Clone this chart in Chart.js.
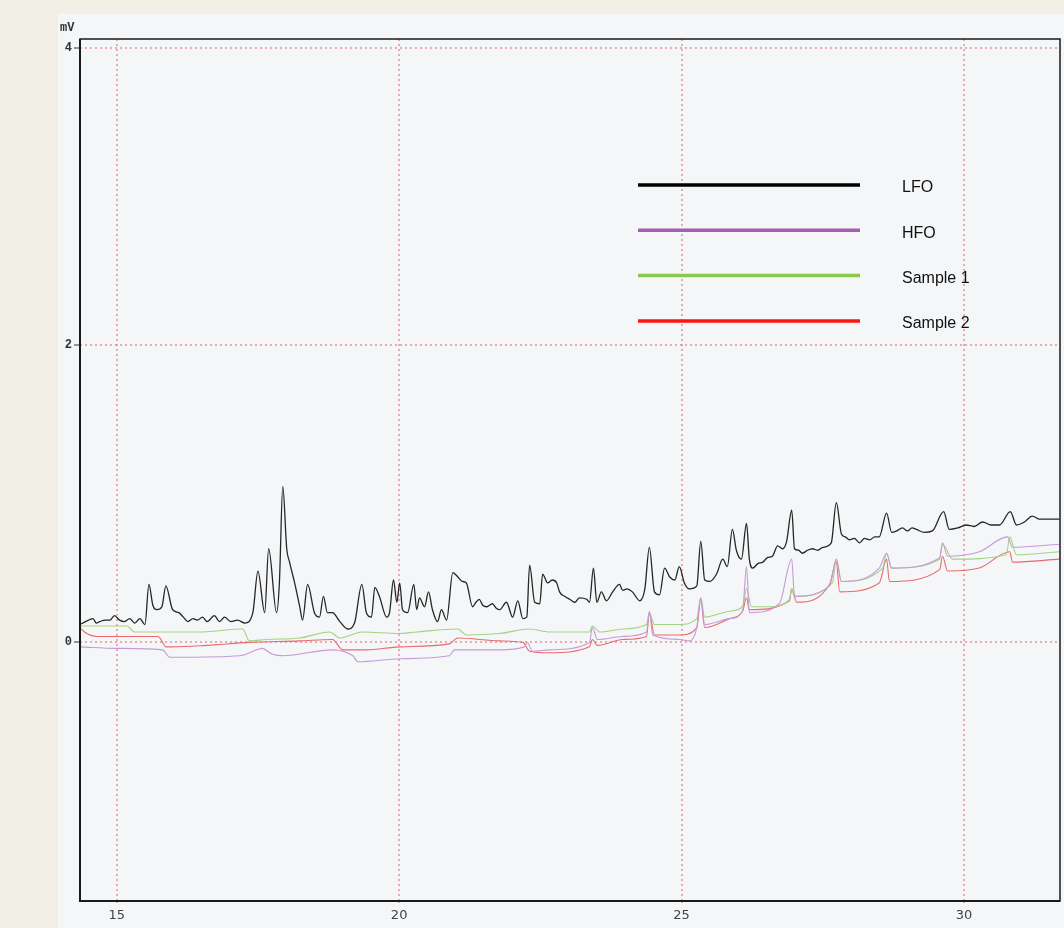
<!DOCTYPE html>
<html>
<head>
<meta charset="utf-8">
<script src="https://cdn.jsdelivr.net/npm/chart.js@4.4.1/dist/chart.umd.min.js"></script>
<style>
  html, body { margin: 0; padding: 0; background: #f2efe7; }
  #panel { position: absolute; left: 58px; top: 14px; width: 1006px; height: 914px; background: #f4f6f7; }
  canvas { display: block; }
</style>
</head>
<body>
<div id="panel"><canvas id="chrom" width="1006" height="914"></canvas></div>
<script>
// retention time (min) vs signal (mV)
const seriesNames = ['LFO', 'HFO', 'Sample 1', 'Sample 2'];
const xTicks = [15, 20, 25, 30];
const yTicks = [0, 2, 4];

const lfo = [
  [14.35,0.12],[14.45,0.14],[14.58,0.16],[14.64,0.13],[14.70,0.14],[14.80,0.15],[14.88,0.15],[14.96,0.18],
  [15.05,0.15],[15.14,0.14],[15.23,0.16],[15.32,0.13],[15.41,0.16],[15.50,0.12],[15.57,0.39],[15.64,0.25],
  [15.71,0.22],[15.80,0.24],[15.87,0.38],[15.99,0.22],[16.10,0.20],[16.18,0.17],[16.26,0.14],[16.35,0.16],
  [16.43,0.15],[16.52,0.17],[16.60,0.14],[16.73,0.18],[16.82,0.14],[16.91,0.17],[17.02,0.14],[17.14,0.15],
  [17.27,0.13],[17.41,0.20],[17.50,0.48],[17.62,0.20],[17.69,0.63],[17.83,0.20],[17.88,0.40],[17.94,1.05],
  [18.01,0.63],[18.06,0.54],[18.15,0.40],[18.24,0.24],[18.29,0.15],[18.38,0.39],[18.50,0.20],[18.59,0.17],
  [18.66,0.31],[18.73,0.20],[18.82,0.20],[18.95,0.14],[19.09,0.09],[19.21,0.13],[19.34,0.39],[19.42,0.20],
  [19.51,0.17],[19.57,0.37],[19.65,0.31],[19.78,0.17],[19.83,0.20],[19.90,0.42],[19.96,0.27],[20.01,0.40],
  [20.06,0.22],[20.15,0.20],[20.26,0.39],[20.31,0.22],[20.36,0.30],[20.45,0.24],[20.52,0.34],[20.59,0.22],
  [20.68,0.14],[20.75,0.22],[20.84,0.15],[20.95,0.47],[21.04,0.44],[21.12,0.41],[21.19,0.40],[21.30,0.24],
  [21.36,0.27],[21.42,0.29],[21.48,0.25],[21.55,0.24],[21.65,0.26],[21.72,0.23],[21.78,0.22],[21.90,0.27],
  [22.01,0.17],[22.10,0.28],[22.19,0.16],[22.26,0.17],[22.31,0.52],[22.40,0.27],[22.49,0.26],[22.54,0.46],
  [22.63,0.40],[22.71,0.42],[22.79,0.40],[22.84,0.34],[22.93,0.31],[23.02,0.29],[23.11,0.27],[23.19,0.30],
  [23.32,0.29],[23.37,0.27],[23.44,0.50],[23.50,0.27],[23.58,0.34],[23.67,0.28],[23.78,0.34],[23.90,0.39],
  [23.96,0.35],[24.03,0.36],[24.13,0.34],[24.26,0.28],[24.35,0.36],[24.43,0.64],[24.52,0.34],[24.61,0.32],
  [24.70,0.50],[24.79,0.44],[24.88,0.42],[24.96,0.51],[25.05,0.40],[25.14,0.36],[25.27,0.38],[25.34,0.68],
  [25.41,0.42],[25.50,0.41],[25.62,0.46],[25.73,0.56],[25.81,0.51],[25.90,0.76],[25.97,0.62],[26.06,0.56],
  [26.15,0.80],[26.20,0.56],[26.26,0.50],[26.35,0.53],[26.44,0.54],[26.52,0.57],[26.61,0.58],[26.70,0.65],
  [26.79,0.63],[26.86,0.68],[26.95,0.89],[27.00,0.63],[27.07,0.62],[27.14,0.60],[27.23,0.62],[27.32,0.63],
  [27.41,0.62],[27.50,0.64],[27.65,0.67],[27.74,0.94],[27.83,0.73],[27.90,0.71],[27.97,0.69],[28.06,0.70],
  [28.15,0.67],[28.24,0.70],[28.33,0.69],[28.42,0.71],[28.50,0.71],[28.63,0.87],[28.72,0.74],[28.81,0.75],
  [28.91,0.77],[29.00,0.75],[29.08,0.77],[29.16,0.76],[29.30,0.74],[29.44,0.75],[29.64,0.88],[29.74,0.76],
  [29.89,0.77],[30.04,0.79],[30.18,0.78],[30.33,0.81],[30.48,0.79],[30.63,0.79],[30.82,0.88],[30.93,0.79],
  [31.07,0.81],[31.21,0.85],[31.33,0.83],[31.45,0.83],[31.69,0.83]
];

const hfo = [
  [14.35,-0.03],[15.00,-0.04],[15.81,-0.05],[15.94,-0.10],[16.06,-0.10],[17.18,-0.09],[17.48,-0.05],
  [17.57,-0.04],[17.76,-0.08],[17.94,-0.09],[18.82,-0.05],[19.18,-0.09],[19.27,-0.13],[20.01,-0.11],
  [20.89,-0.09],[20.98,-0.05],[21.78,-0.05],[22.22,-0.03],[22.27,0.00],[22.36,-0.06],[22.66,-0.05],
  [23.37,0.00],[23.42,0.10],[23.51,0.02],[23.96,0.04],[24.38,0.07],[24.43,0.21],[24.49,0.05],[24.96,0.02],
  [25.14,0.01],[25.27,0.10],[25.34,0.30],[25.41,0.12],[25.85,0.16],[26.08,0.21],[26.15,0.51],[26.20,0.20],
  [26.73,0.26],[26.95,0.56],[27.00,0.31],[27.62,0.38],[27.74,0.56],[27.83,0.41],[28.50,0.50],[28.63,0.60],
  [28.72,0.50],[29.57,0.57],[29.62,0.67],[29.71,0.58],[30.27,0.61],[30.77,0.71],[30.86,0.64],[31.69,0.66]
];

const sample1 = [
  [14.35,0.11],[15.18,0.11],[15.32,0.07],[16.47,0.07],[17.23,0.09],[17.35,0.01],[17.65,0.02],[18.24,0.03],
  [18.77,0.07],[18.95,0.03],[19.35,0.07],[20.01,0.06],[20.31,0.07],[21.04,0.09],[21.19,0.05],[21.78,0.06],
  [22.31,0.09],[22.66,0.07],[23.37,0.07],[23.42,0.11],[23.55,0.07],[23.96,0.09],[24.38,0.12],[24.43,0.20],
  [24.52,0.12],[24.96,0.12],[25.27,0.16],[25.34,0.30],[25.41,0.17],[25.85,0.21],[26.08,0.24],[26.15,0.36],
  [26.24,0.24],[26.56,0.24],[26.91,0.29],[26.95,0.36],[27.00,0.31],[27.67,0.40],[27.74,0.56],[27.83,0.41],
  [28.56,0.50],[28.63,0.60],[28.72,0.50],[29.57,0.56],[29.62,0.66],[29.80,0.56],[30.75,0.59],[30.81,0.71],
  [30.93,0.59],[31.69,0.61]
];

const sample2 = [
  [14.35,0.10],[14.43,0.07],[14.65,0.04],[15.73,0.04],[15.88,-0.03],[15.97,-0.03],[16.59,-0.02],[17.35,0.00],
  [18.24,0.01],[18.82,0.02],[19.00,-0.05],[19.42,-0.05],[20.01,-0.03],[20.89,-0.01],[21.04,0.03],[21.78,0.01],
  [22.19,0.00],[22.31,-0.06],[22.66,-0.07],[23.37,-0.03],[23.42,0.02],[23.51,-0.02],[23.96,0.02],[24.38,0.04],
  [24.43,0.20],[24.52,0.05],[24.96,0.05],[25.27,0.10],[25.34,0.29],[25.41,0.10],[25.85,0.16],[26.08,0.21],
  [26.15,0.30],[26.20,0.22],[26.91,0.28],[26.95,0.36],[27.04,0.27],[27.62,0.39],[27.74,0.54],[27.80,0.34],
  [28.50,0.40],[28.63,0.56],[28.68,0.41],[29.57,0.49],[29.62,0.58],[29.71,0.48],[30.27,0.50],[30.81,0.61],
  [30.86,0.54],[31.69,0.56]
];

const traceColors = ['#262626', '#c79ad8', '#a3d383', '#e86a6c'];
const legendColors = ['#000000', '#a55db6', '#8cc84b', '#ff1414'];
const gridColor = 'rgba(228, 120, 132, 0.6)';

const toPoints = arr => arr.map(p => ({ x: p[0], y: p[1] }));

// frame around plot, the "mV" unit and the line legend in the upper right
const framePlugin = {
  id: 'frame',
  afterDraw(chart) {
    const { ctx, chartArea: a } = chart;
    ctx.save();
    ctx.strokeStyle = '#1a1a1a';
    ctx.lineWidth = 1.5;
    ctx.strokeRect(a.left, a.top, a.right - a.left, a.bottom - a.top);
    ctx.lineWidth = 2;
    ctx.beginPath();
    ctx.moveTo(a.left, a.top); ctx.lineTo(a.left, a.bottom); ctx.lineTo(a.right, a.bottom);
    ctx.stroke();

    ctx.fillStyle = '#333';
    ctx.font = 'bold 12px "Liberation Mono"';
    ctx.textAlign = 'left';
    ctx.textBaseline = 'bottom';
    ctx.fillText('mV', a.left - 20, a.top - 5);

    const x0 = a.left + 558, x1 = a.left + 780, y0 = a.top + 146, gap = 45.3;
    ctx.font = '16px "Liberation Sans", Arial';
    ctx.textBaseline = 'middle';
    chart.data.datasets.forEach((ds, i) => {
      const y = y0 + i * gap;
      ctx.strokeStyle = legendColors[i];
      ctx.lineWidth = 3.5;
      ctx.beginPath(); ctx.moveTo(x0, y); ctx.lineTo(x1, y); ctx.stroke();
      ctx.fillStyle = '#111';
      ctx.fillText(ds.label, x1 + 42, y + 3);
    });
    ctx.restore();
  }
};

const ctx = document.getElementById('chrom').getContext('2d');
new Chart(ctx, {
  type: 'line',
  data: {
    datasets: [lfo, hfo, sample1, sample2].map((s, i) => ({
      label: seriesNames[i],
      data: toPoints(s),
      borderColor: traceColors[i],
      borderWidth: i === 0 ? 1.3 : 1.1,
      pointRadius: 0,
      cubicInterpolationMode: 'monotone',
      fill: false
    }))
  },
  options: {
    responsive: false,
    animation: false,
    devicePixelRatio: 1,
    layout: { padding: { left: 0, top: 25, right: 4, bottom: 0 } },
    plugins: { legend: { display: false }, tooltip: { enabled: false } },
    scales: {
      x: {
        type: 'linear',
        min: 14.35,
        max: 31.7,
        afterBuildTicks: s => { s.ticks = xTicks.map(v => ({ value: v })); },
        afterFit: s => { s.height = 27; },
        ticks: { color: '#444', font: { family: 'DejaVu Sans', size: 13 }, padding: 3, maxRotation: 0 },
        grid: { color: gridColor, lineWidth: 2, tickLength: 4, tickColor: gridColor, tickBorderDash: [2, 2] },
        border: { display: false, dash: [2, 3] }
      },
      y: {
        type: 'linear',
        min: -1.74,
        max: 4.06,
        afterBuildTicks: s => { s.ticks = yTicks.map(v => ({ value: v })); },
        afterFit: s => { s.width = 22; },
        ticks: { color: '#333', font: { family: 'Liberation Mono', size: 12, weight: 'bold' }, padding: 2 },
        grid: { color: gridColor, lineWidth: 2, tickLength: 6, tickColor: '#333', tickWidth: 1 },
        border: { display: false, dash: [2, 3] }
      }
    }
  },
  plugins: [framePlugin]
});
</script>
</body>
</html>
